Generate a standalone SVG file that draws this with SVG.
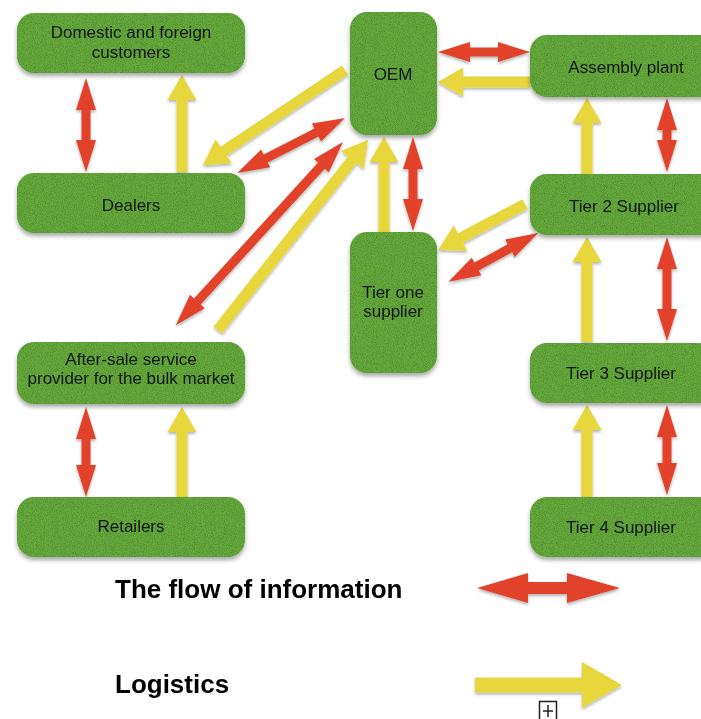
<svg xmlns="http://www.w3.org/2000/svg" width="701" height="719" viewBox="0 0 701 719">
<style>
.box{fill:#66ac3e;filter:url(#nodeFx)}
.lbl{font-family:"Liberation Sans",Arial,Helvetica,sans-serif;font-size:17px;fill:#151515;text-anchor:middle}
.leg{font-family:"Liberation Sans",Arial,Helvetica,sans-serif;font-size:26px;font-weight:bold;fill:#000}
.info{fill:#e2432b}
.log{fill:#e8d63d}
</style>
<defs>
<filter id="nodeFx" x="-10%" y="-15%" width="120%" height="140%">
<feGaussianBlur in="SourceAlpha" stdDeviation="2"/>
<feOffset dx="0" dy="3" result="b"/>
<feFlood flood-color="#000" flood-opacity="0.35"/>
<feComposite in2="b" operator="in" result="sh"/>
<feTurbulence type="fractalNoise" baseFrequency="1.1" numOctaves="2" seed="4" result="noise"/>
<feColorMatrix in="noise" type="matrix" values="0 0 0 0 0  0 0 0 0 0  0 0 0 0 0  0.9 0 0 0 -0.33" result="dark"/>
<feComposite in="dark" in2="SourceAlpha" operator="in" result="tex"/>
<feMerge><feMergeNode in="sh"/><feMergeNode in="SourceGraphic"/><feMergeNode in="tex"/></feMerge>
</filter>
<filter id="arrFx" x="-20%" y="-20%" width="140%" height="140%">
<feGaussianBlur in="SourceAlpha" stdDeviation="1.5"/>
<feOffset dx="0" dy="2" result="b"/>
<feFlood flood-color="#000" flood-opacity="0.3"/>
<feComposite in2="b" operator="in" result="sh"/>
<feMerge><feMergeNode in="sh"/><feMergeNode in="SourceGraphic"/></feMerge>
</filter>
</defs>
<rect width="701" height="719" fill="#fff"/>

<g id="connectors" filter="url(#arrFx)">
<polygon class="info" transform="translate(86,78) rotate(90)" points="0,0 32,-10 32,-4.5 62,-4.5 62,-10 94,0 62,10 62,4.5 32,4.5 32,10"/>
<polygon class="log" transform="translate(182,172) rotate(-90)" points="0,-5.5 72,-5.5 72,-14.5 97,0 72,14.5 72,5.5 0,5.5"/>
<polygon class="log" transform="translate(345,70) rotate(146.2)" points="0,-5.5 146,-5.5 146,-14.5 171,0 146,14.5 146,5.5 0,5.5"/>
<polygon class="info" transform="translate(345,118) rotate(153)" points="0,0 32,-10 32,-4.5 89,-4.5 89,-10 121,0 89,10 89,4.5 32,4.5 32,10"/>
<polygon class="info" transform="translate(343,142) rotate(132.4)" points="0,0 32,-10 32,-4.5 216,-4.5 216,-10 248,0 216,10 216,4.5 32,4.5 32,10"/>
<polygon class="log" transform="translate(218,330) rotate(-51.7)" points="0,-5.5 217,-5.5 217,-14.5 242,0 217,14.5 217,5.5 0,5.5"/>
<polygon class="log" transform="translate(384,232) rotate(-90)" points="0,-5.5 70,-5.5 70,-14.5 95,0 70,14.5 70,5.5 0,5.5"/>
<polygon class="info" transform="translate(413,137) rotate(90)" points="0,0 32,-10 32,-4.5 62,-4.5 62,-10 94,0 62,10 62,4.5 32,4.5 32,10"/>
<polygon class="info" transform="translate(438,52)" points="0,0 32,-10 32,-4.5 60,-4.5 60,-10 92,0 60,10 60,4.5 32,4.5 32,10"/>
<polygon class="log" transform="translate(530,82) rotate(180)" points="0,-5.5 67,-5.5 67,-14.5 92,0 67,14.5 67,5.5 0,5.5"/>
<polygon class="log" transform="translate(587,174) rotate(-90)" points="0,-5.5 51,-5.5 51,-14.5 76,0 51,14.5 51,5.5 0,5.5"/>
<polygon class="info" transform="translate(667,98) rotate(90)" points="0,0 32,-10 32,-4.5 42,-4.5 42,-10 74,0 42,10 42,4.5 32,4.5 32,10"/>
<polygon class="log" transform="translate(525,204) rotate(152.1)" points="0,-5.5 73,-5.5 73,-14.5 98,0 73,14.5 73,5.5 0,5.5"/>
<polygon class="info" transform="translate(538,233) rotate(151.4)" points="0,0 32,-10 32,-4.5 70,-4.5 70,-10 102,0 70,10 70,4.5 32,4.5 32,10"/>
<polygon class="log" transform="translate(587,342) rotate(-90)" points="0,-5.5 80,-5.5 80,-14.5 105,0 80,14.5 80,5.5 0,5.5"/>
<polygon class="info" transform="translate(667,237) rotate(90)" points="0,0 32,-10 32,-4.5 72,-4.5 72,-10 104,0 72,10 72,4.5 32,4.5 32,10"/>
<polygon class="log" transform="translate(587,497) rotate(-90)" points="0,-5.5 67,-5.5 67,-14.5 92,0 67,14.5 67,5.5 0,5.5"/>
<polygon class="info" transform="translate(667,405) rotate(90)" points="0,0 32,-10 32,-4.5 58,-4.5 58,-10 90,0 58,10 58,4.5 32,4.5 32,10"/>
<polygon class="info" transform="translate(86,407) rotate(90)" points="0,0 32,-10 32,-4.5 58,-4.5 58,-10 90,0 58,10 58,4.5 32,4.5 32,10"/>
<polygon class="log" transform="translate(182,497) rotate(-90)" points="0,-5.5 65,-5.5 65,-14.5 90,0 65,14.5 65,5.5 0,5.5"/>
</g>

<g id="customers"><rect class="box" x="17" y="13" width="228" height="60" rx="17"/>
<text class="lbl" x="131" y="38">Domestic and foreign</text><text class="lbl" x="131" y="58">customers</text></g>
<g id="dealers"><rect class="box" x="17" y="173" width="228" height="60" rx="17"/>
<text class="lbl" x="131" y="211">Dealers</text></g>
<g id="oem"><rect class="box" x="350" y="12" width="87" height="123" rx="17"/>
<text class="lbl" x="393" y="80">OEM</text></g>
<g id="assembly"><rect class="box" x="530" y="35" width="186" height="62" rx="17"/>
<text class="lbl" x="626" y="73">Assembly plant</text></g>
<g id="tier2"><rect class="box" x="530" y="174" width="186" height="61" rx="17"/>
<text class="lbl" x="624" y="212">Tier 2 Supplier</text></g>
<g id="tier1"><rect class="box" x="350" y="232" width="87" height="141" rx="17"/>
<text class="lbl" x="393" y="298">Tier one</text><text class="lbl" x="393" y="317">supplier</text></g>
<g id="aftersale"><rect class="box" x="17" y="342" width="228" height="62" rx="17"/>
<text class="lbl" x="131" y="365">After-sale service</text><text class="lbl" x="131" y="384">provider for the bulk market</text></g>
<g id="tier3"><rect class="box" x="530" y="343" width="186" height="60" rx="17"/>
<text class="lbl" x="621" y="379">Tier 3 Supplier</text></g>
<g id="retailers"><rect class="box" x="17" y="497" width="228" height="60" rx="17"/>
<text class="lbl" x="131" y="532">Retailers</text></g>
<g id="tier4"><rect class="box" x="530" y="497" width="186" height="60" rx="17"/>
<text class="lbl" x="621" y="533">Tier 4 Supplier</text></g>

<g id="legend">
<text class="leg" x="115" y="598">The flow of information</text>
<text class="leg" x="115" y="693">Logistics</text>
<polygon class="info" filter="url(#arrFx)" points="477,588 528,573 528,582 567,582 567,573 620,588 567,603 567,594 528,594 528,603"/>
<polygon class="log" filter="url(#arrFx)" points="475,677.5 582,677.5 582,662 622,685 582,708 582,692.5 475,692.5"/>
<rect x="539.5" y="701.5" width="17" height="20" fill="#fff" stroke="#222" stroke-width="1.5"/>
<path d="M548 705 V717 M543 711 H553" stroke="#222" stroke-width="1.5"/>
</g>
</svg>
